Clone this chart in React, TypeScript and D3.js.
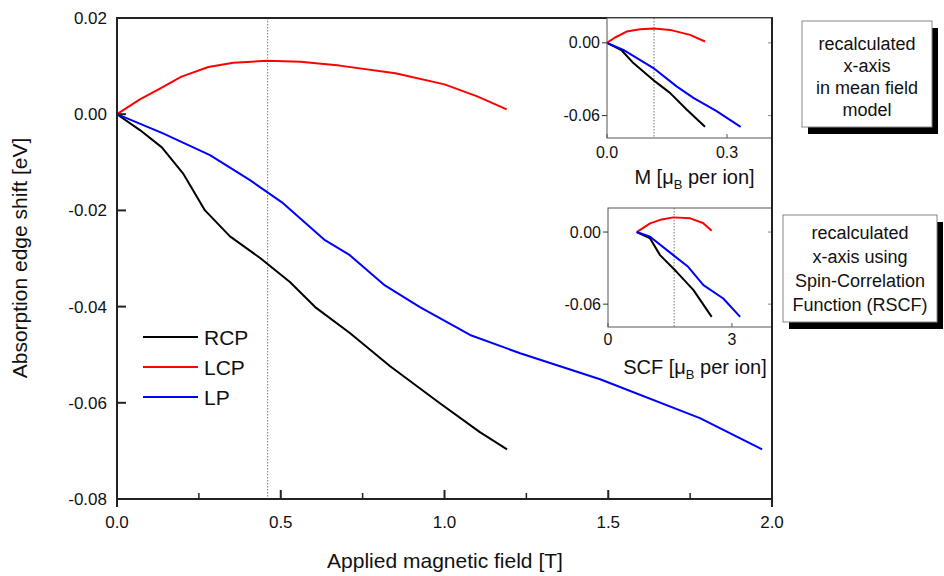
import React from "react";
import * as d3 from "d3";

// ---------- data ----------
// Main plot: applied field B [T] vs absorption edge shift [eV]
const rcpB = [0, 0.07, 0.137, 0.2015, 0.2687, 0.345, 0.437, 0.528, 0.605, 0.711, 0.834, 0.986, 1.108, 1.191];
const rcpV = [0, -0.0033, -0.0069, -0.0123, -0.02, -0.0254, -0.0299, -0.0349, -0.0401, -0.0455, -0.0524, -0.0601, -0.0661, -0.0697];
const lcpB = [0, 0.07, 0.131, 0.197, 0.279, 0.355, 0.457, 0.56, 0.68, 0.85, 1.0, 1.1, 1.19];
const lcpV = [0, 0.0031, 0.0053, 0.0078, 0.0098, 0.0107, 0.0111, 0.0109, 0.0101, 0.0085, 0.0062, 0.0037, 0.001];
const lpB = [0, 0.1405, 0.284, 0.406, 0.507, 0.635, 0.711, 0.818, 0.925, 1.078, 1.231, 1.475, 1.78, 1.97];
const lpV = [0, -0.004, -0.0085, -0.0137, -0.0185, -0.0262, -0.0293, -0.0356, -0.0401, -0.0459, -0.0497, -0.0551, -0.0632, -0.0697];

// Inset 1: M [muB per ion]
const rcpM = [0, 0.037, 0.066, 0.12, 0.1575, 0.199, 0.245];
const rcpMV = [0, -0.0063, -0.0167, -0.0318, -0.0413, -0.055, -0.0693];
const lcpM = [0, 0.02, 0.049, 0.0825, 0.118, 0.1575, 0.2075, 0.245];
const lcpMV = [0, 0.0044, 0.0093, 0.0113, 0.0118, 0.0107, 0.0066, 0.0011];
const lpM = [0, 0.041, 0.116, 0.174, 0.216, 0.274, 0.334];
const lpMV = [0, -0.0058, -0.0208, -0.0359, -0.0454, -0.0564, -0.0693];

// Inset 2: SCF [muB per ion]
const rcpS = [0.695, 1.02, 1.26, 1.66, 2.07, 2.51];
const rcpSV = [0, -0.0053, -0.0192, -0.0331, -0.0483, -0.0706];
const lcpS = [0.695, 1.02, 1.3, 1.58, 1.99, 2.3, 2.51];
const lcpSV = [0, 0.0072, 0.0105, 0.0122, 0.0114, 0.0075, 0.0011];
const lpS = [0.695, 1.02, 1.58, 1.94, 2.31, 2.79, 3.2];
const lpSV = [0, -0.0039, -0.0192, -0.0289, -0.0442, -0.0553, -0.0706];

const markerB = 0.46;
const markerM = 0.1175;
const markerS = 1.6;

const seriesNames = ["RCP", "LCP", "LP"];
const seriesColors = ["#000000", "#ff0000", "#0000ff"];

const mainXTicks = [0, 0.5, 1.0, 1.5, 2.0];
const mainXMinor = [0.25, 0.75, 1.25, 1.75];
const mainYTicks = [0.02, 0.0, -0.02, -0.04, -0.06, -0.08];
const inset1XTicks = [0, 0.3];
const inset2XTicks = [0, 3];
const insetYTicks = [0, -0.06];

const box1Lines = ["recalculated", "x-axis", "in mean field", "model"];
const box2Lines = ["recalculated", "x-axis using", "Spin-Correlation", "Function (RSCF)"];

const FONT = "'Liberation Sans', Arial, Helvetica, sans-serif";

function zip(xs: number[], ys: number[]): [number, number][] {
  return xs.map((x, i) => [x, ys[i]] as [number, number]);
}

export default function App() {
  const W = 944, H = 576;
  // main scales
  const x = d3.scaleLinear().domain([0, 2]).range([117, 772]);
  const y = d3.scaleLinear().domain([-0.08, 0.02]).range([499, 18]);
  // inset 1
  const x1 = d3.scaleLinear().domain([0, 0.4125]).range([607, 772]);
  const y1 = d3.scaleLinear().domain([-0.0785, 0.0205]).range([138, 18]);
  // inset 2
  const x2 = d3.scaleLinear().domain([0, 3.97]).range([608, 772]);
  const y2 = d3.scaleLinear().domain([-0.079, 0.02]).range([327, 208]);

  const mainData = [zip(rcpB, rcpV), zip(lcpB, lcpV), zip(lpB, lpV)];
  const in1Data = [zip(rcpM, rcpMV), zip(lcpM, lcpMV), zip(lpM, lpMV)];
  const in2Data = [zip(rcpS, rcpSV), zip(lcpS, lcpSV), zip(lpS, lpSV)];

  const lineMain = d3.line<[number, number]>().x(d => x(d[0])).y(d => y(d[1])).curve(d3.curveLinear);
  const line1 = d3.line<[number, number]>().x(d => x1(d[0])).y(d => y1(d[1])).curve(d3.curveLinear);
  const line2 = d3.line<[number, number]>().x(d => x2(d[0])).y(d => y2(d[1])).curve(d3.curveLinear);

  const renderInset = (
    xs: d3.ScaleLinear<number, number>,
    ys: d3.ScaleLinear<number, number>,
    data: [number, number][][],
    lineGen: d3.Line<[number, number]>,
    marker: number,
    xTicks: number[],
    xFmt: (v: number) => string,
    labelMain: string,
    labelY: number,
    tickLabelY: number
  ) => {
    const [l, r] = xs.range();
    const [b, t] = ys.range();
    return (
      <g>
        <rect x={l} y={t} width={r - l} height={b - t} fill="#fff" stroke="none" />
        <line x1={xs(marker)} x2={xs(marker)} y1={t} y2={b} stroke="#777" strokeWidth={1} strokeDasharray="1.5,1.5" />
        {data.map((d, i) => (
          <path key={i} d={lineGen(d) || ""} fill="none" stroke={seriesColors[i]} strokeWidth={2} strokeLinejoin="round" />
        ))}
        <rect x={l} y={t} width={r - l} height={b - t} fill="none" stroke="#555" strokeWidth={1} />
        {insetYTicks.map((v, i) => (
          <g key={i}>
            <line x1={l - 5} x2={l} y1={ys(v)} y2={ys(v)} stroke="#333" strokeWidth={1} />
            <line x1={r - 4} x2={r} y1={ys(v)} y2={ys(v)} stroke="#888" strokeWidth={1} />
            <text x={l - 7} y={ys(v)} dy="0.35em" textAnchor="end" fontSize={16} fontFamily={FONT} fill="#111">
              {d3.format(".2f")(v).replace("−", "-")}
            </text>
          </g>
        ))}
        {xTicks.map((v, i) => (
          <g key={i}>
            <line x1={xs(v)} x2={xs(v)} y1={b} y2={b - 4} stroke="#555" strokeWidth={1} />
            <text x={xs(v)} y={tickLabelY} textAnchor="middle" fontSize={16} fontFamily={FONT} fill="#111">
              {xFmt(v)}
            </text>
          </g>
        ))}
        <text x={(l + r) / 2 + 5} y={labelY} textAnchor="middle" fontSize={20} fontFamily={FONT} fill="#111">
          {labelMain} [μ<tspan fontSize={13} dy={5}>B</tspan>
          <tspan dy={-5}> per ion]</tspan>
        </text>
      </g>
    );
  };

  const renderBox = (lines: string[], left: number, top: number, right: number, bottom: number, baseline0: number, step: number) => (
    <g>
      <rect x={left + 6} y={top + 7} width={right - left} height={bottom - top} fill="#000" />
      <rect x={left} y={top} width={right - left} height={bottom - top} fill="#fff" stroke="#888" strokeWidth={1} />
      {lines.map((s, i) => (
        <text key={i} x={(left + right) / 2} y={baseline0 + i * step} textAnchor="middle" fontSize={18} fontFamily={FONT} fill="#111">
          {s}
        </text>
      ))}
    </g>
  );

  return (
    <svg width={W} height={H} style={{ position: "absolute", left: 0, top: 0, background: "#fff" }}>
      <rect x={0} y={0} width={W} height={H} fill="#fff" />
      {/* marker line */}
      <line x1={x(markerB)} x2={x(markerB)} y1={18} y2={499} stroke="#777" strokeWidth={1} strokeDasharray="1.5,1.5" />
      {/* main curves */}
      {mainData.map((d, i) => (
        <path key={i} d={lineMain(d) || ""} fill="none" stroke={seriesColors[i]} strokeWidth={2} strokeLinejoin="round" />
      ))}
      {/* main frame */}
      <rect x={117} y={18} width={772 - 117} height={499 - 18} fill="none" stroke="#222" strokeWidth={2} />
      <line x1={117} x2={117} y1={499} y2={507} stroke="#222" strokeWidth={2} />
      <line x1={772} x2={772} y1={499} y2={507} stroke="#222" strokeWidth={2} />
      {/* y ticks */}
      {mainYTicks.map((v, i) => (
        <g key={i}>
          <line x1={117} x2={126} y1={y(v)} y2={y(v)} stroke="#222" strokeWidth={2} />
          <text x={107} y={y(v)} dy="0.35em" textAnchor="end" fontSize={17} fontFamily={FONT} fill="#111">
            {d3.format(".2f")(v).replace("−", "-")}
          </text>
        </g>
      ))}
      {/* x ticks */}
      {mainXTicks.map((v, i) => (
        <g key={i}>
          <line x1={x(v)} x2={x(v)} y1={499} y2={490} stroke="#222" strokeWidth={2} />
          <text x={x(v)} y={528} textAnchor="middle" fontSize={17} fontFamily={FONT} fill="#111">
            {d3.format(".1f")(v)}
          </text>
        </g>
      ))}
      {mainXMinor.map((v, i) => (
        <line key={i} x1={x(v)} x2={x(v)} y1={499} y2={493} stroke="#222" strokeWidth={1.5} />
      ))}
      {/* axis titles */}
      <text x={445} y={568} textAnchor="middle" fontSize={21} fontFamily={FONT} fill="#111">
        Applied magnetic field [T]
      </text>
      <text transform={`translate(27,${258}) rotate(-90)`} textAnchor="middle" fontSize={21} fontFamily={FONT} fill="#111">
        Absorption edge shift [eV]
      </text>
      {/* legend */}
      {seriesNames.map((n, i) => (
        <g key={n}>
          <line x1={143} x2={198} y1={337 + i * 30} y2={337 + i * 30} stroke={seriesColors[i]} strokeWidth={2} />
          <text x={204} y={337 + i * 30} dy="0.36em" fontSize={21} fontFamily={FONT} fill="#111">
            {n}
          </text>
        </g>
      ))}
      {/* insets */}
      {renderInset(x1, y1, in1Data, line1, markerM, inset1XTicks, d3.format(".1f"), "M", 184, 158)}
      {renderInset(x2, y2, in2Data, line2, markerS, inset2XTicks, d3.format("d"), "SCF", 374, 345)}
      {/* right frame line passing insets */}
      <line x1={772} x2={772} y1={18} y2={499} stroke="#222" strokeWidth={2} />
      {/* boxes */}
      {renderBox(box1Lines, 802, 21, 932, 127, 50, 22)}
      {renderBox(box2Lines, 783, 215, 937, 322, 239, 24)}
    </svg>
  );
}
